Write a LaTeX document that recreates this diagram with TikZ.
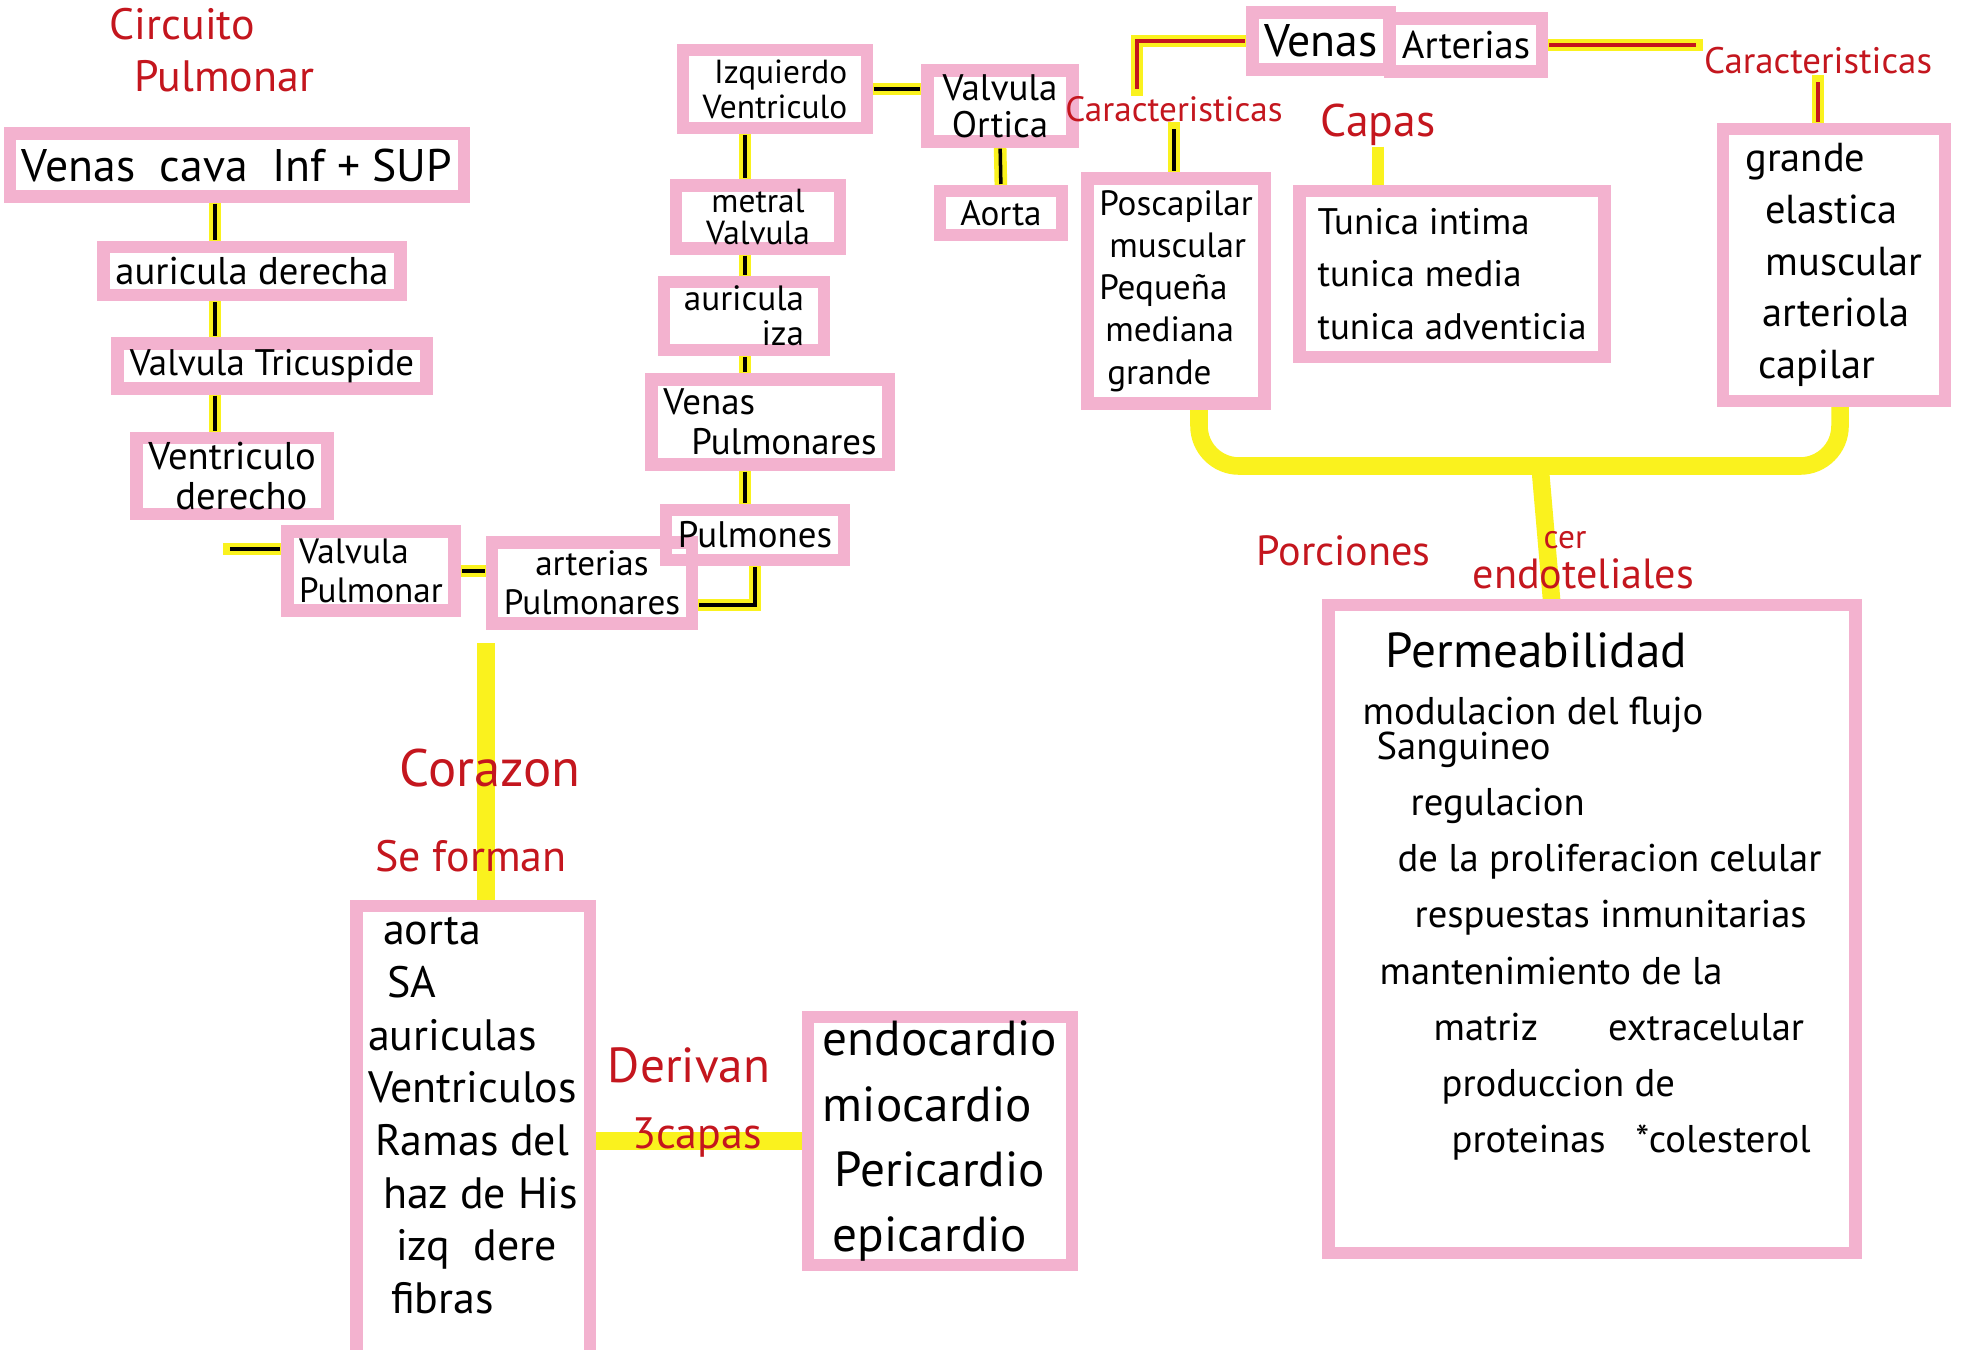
\documentclass[tikz,border=0pt]{standalone}
\usepackage{fontspec}
\setmainfont{PT Sans}
\usetikzlibrary{backgrounds}
\definecolor{pinkmark}{RGB}{243,178,207}
\definecolor{yellowmark}{RGB}{250,242,30}
\definecolor{redpen}{RGB}{196,22,30}
\begin{document}
\begin{tikzpicture}[x=0.1mm, y=-0.1mm,
    box/.style={draw=pinkmark, line width=3.6pt, outer sep=0pt, inner xsep=1.2mm, inner ysep=0.4mm},
    lbl/.style={text=redpen, inner sep=0pt},
    hl/.style={draw=yellowmark, line width=3.6pt},
    broad/.style={draw=yellowmark, line width=5pt},
    pen/.style={hl, postaction={draw=black, line width=1pt, shorten <=2pt, shorten >=2pt}},
    redline/.style={hl, postaction={draw=redpen, line width=1pt, shorten <=2pt, shorten >=2pt}}]
    \useasboundingbox (0,0) rectangle (1965,1349);

    \node[lbl, font=\fontsize{12.5}{15}\selectfont, align=left] (circ) at (212,50) {Circuito\\\hspace*{2.5mm}Pulmonar};
    \node[box, minimum width=43.6mm, minimum height=6.3mm, font=\fontsize{13}{15}\selectfont] (vcava) at (237,165) {Venas~~cava~~Inf + SUP};
    \node[box, minimum width=28.6mm, minimum height=4.8mm, font=\fontsize{11}{13}\selectfont] (aurder) at (252,271) {auricula derecha};
    \node[box, minimum width=28.3mm, minimum height=4.5mm, font=\fontsize{10.5}{12}\selectfont] (vtric) at (272,366) {Valvula Tricuspide};
    \node[box, minimum width=17.6mm, minimum height=7.6mm, font=\fontsize{11}{11.5}\selectfont, align=left] (ventder) at (232,476) {Ventriculo\\\hspace*{2.7mm}derecho};
    \node[box, minimum width=14.8mm, minimum height=7.9mm, font=\fontsize{10}{11}\selectfont, align=left] (vpulm) at (371,571) {Valvula\\Pulmonar};
    \node[box, minimum width=17mm, minimum height=8.1mm, font=\fontsize{10}{11}\selectfont, align=center] (artpulm) at (592,583) {arterias\\Pulmonares};
    \node[box, minimum width=14.4mm, minimum height=5mm, font=\fontsize{10.5}{12}\selectfont] (pulmones) at (755,535) {Pulmones};
    \node[box, minimum width=20.3mm, minimum height=8.5mm, font=\fontsize{10.5}{11.5}\selectfont, align=left] (venpulm) at (770,422) {Venas\\\hspace*{2.8mm}Pulmonares};
    \node[box, minimum width=16mm, minimum height=6.3mm, font=\fontsize{10}{10}\selectfont, align=right] (aurizq) at (744,316) {auricula\\iza};
    \node[box, minimum width=16.4mm, minimum height=5.6mm, font=\fontsize{9.5}{9}\selectfont, align=center] (mitral) at (758,217) {metral\\Valvula};
    \node[box, minimum width=18.4mm, minimum height=7.8mm, font=\fontsize{9.5}{10}\selectfont, align=right] (izqvent) at (775,89) {Izquierdo\\Ventriculo};
    \node[box, minimum width=14.5mm, minimum height=7mm, font=\fontsize{10.5}{10.5}\selectfont, align=center] (vaort) at (1000,106) {Valvula\\Ortica};
    \node[box, minimum width=12.2mm, minimum height=4.4mm, font=\fontsize{10}{12}\selectfont] (aorta) at (1001,213) {Aorta};
    \node[lbl, font=\fontsize{10}{12}\selectfont] (carl) at (1174,109) {Caracteristicas};
    \node[box, minimum width=11.6mm, minimum height=5.7mm, font=\fontsize{13}{15}\selectfont] (venas) at (1321,41) {Venas};
    \node[box, minimum width=13.8mm, minimum height=5.3mm, font=\fontsize{11}{13}\selectfont] (arterias) at (1466,45) {Arterias};
    \node[lbl, font=\fontsize{10.5}{12}\selectfont] (carr) at (1818,61) {Caracteristicas};
    \node[box, minimum width=22.2mm, minimum height=27.2mm, font=\fontsize{11.5}{14.7}\selectfont, align=left] (grande) at (1834,265)
        {grande\\\hspace*{2mm}elastica\\\hspace*{2mm}muscular\\\hspace*{1.7mm}arteriola\\\hspace*{1.3mm}capilar};
    \node[lbl, font=\fontsize{13}{15}\selectfont] (capas) at (1378,125) {Capas};
    \node[box, minimum width=30.5mm, minimum height=16.6mm, font=\fontsize{10.5}{15}\selectfont, align=left] (tunica) at (1452,274)
        {Tunica intima\\tunica media\\tunica adventicia};
    \node[box, minimum width=17.2mm, minimum height=22.5mm, font=\fontsize{10}{12}\selectfont, align=left] (poscap) at (1176,291)
        {Poscapilar\\\hspace*{1mm}muscular\\Pequeña\\\hspace*{0.6mm}mediana\\\hspace*{0.8mm}grande};
    \node[lbl, font=\fontsize{12}{14}\selectfont] (porc) at (1475,562) {Porciones\quad\raisebox{-2.3mm}{endoteliales}};
    \node[lbl, font=\fontsize{9.5}{11}\selectfont] (cer) at (1565,540) {cer};
    \node[box, minimum width=52.7mm, minimum height=64.8mm, font=\fontsize{11}{16}\selectfont, align=left] (endo) at (1592,929)
        {\hspace*{2.3mm}{\fontsize{14}{16}\selectfont Permeabilidad}\\
         modulacion del flujo\\[-6pt]
         \hspace*{1.4mm}Sanguineo\\
         \hspace*{4.8mm}regulacion\\
         \hspace*{3.5mm}de la proliferacion celular\\
         \hspace*{5.2mm}respuestas inmunitarias\\
         \hspace*{1.7mm}mantenimiento de la\\
         \hspace*{7.1mm}matriz\hspace{7mm}extracelular\\
         \hspace*{7.9mm}produccion de\\
         \hspace*{8.9mm}proteinas\hspace{3mm}*colesterol\\[1.6mm]\mbox{}};
    \node[lbl, font=\fontsize{15}{18}\selectfont] (corazon) at (490,768) {Corazon};
    \node[lbl, font=\fontsize{12.5}{15}\selectfont] (seforman) at (471,856) {Se forman};
    \node[box, minimum width=23.2mm, minimum height=45.4mm, font=\fontsize{12.5}{15}\selectfont, align=left] (heart) at (473,1133)
        {\hspace*{1.5mm}aorta\\\hspace*{1.9mm}SA\\auriculas\\Ventriculos\\\hspace*{0.7mm}Ramas del\\\hspace*{1.5mm}haz de His\\\hspace*{2.8mm}izq~~dere\\\hspace*{2.3mm}fibras\\[-5pt]\mbox{}};
    \node[lbl, font=\fontsize{14}{16}\selectfont] (derivan) at (689,1065) {Derivan};
    \node[lbl, font=\fontsize{12.5}{15}\selectfont] (capas3) at (697,1137) {3capas};
    \node[box, minimum width=26.4mm, minimum height=24.5mm, font=\fontsize{14}{18.5}\selectfont, align=left] (endoc) at (940,1141)
        {endocardio\\miocardio\\\hspace*{1.2mm}Pericardio\\\hspace*{1mm}epicardio};

    \coordinate (leftcol) at (215,0);
    \coordinate (midcol) at (745,0);
    \coordinate (vpdash) at (223,549);
    \coordinate (loopjoint) at (1540,466);
    \coordinate (cortop) at (486,643);

    \begin{scope}[on background layer]
        \fill[white] (0,0) rectangle (1965,1349);
        \foreach \a/\b in {vcava/aurder, aurder/vtric, vtric/ventder}
            \draw[pen] (\a.south -| leftcol) -- (\b.north -| leftcol);
        \foreach \a/\b in {izqvent/mitral, mitral/aurizq, aurizq/venpulm, venpulm/pulmones}
            \draw[pen] (\a.south -| midcol) -- (\b.north -| midcol);
        \draw[pen] (vpdash) -- (vpdash -| vpulm.west);
        \draw[pen] (vpulm.east) -- (vpulm.east -| artpulm.west);
        \draw[pen] ([yshift=-2.2mm]artpulm.east) -| (pulmones.south);
        \draw[pen] (izqvent.east) -- (izqvent.east -| vaort.west);
        \draw[pen] (vaort.south) -- (aorta.north);
        \draw[pen] (carl.south) -- (carl.south |- poscap.north);
        \draw[redline] ([xshift=-3.7mm]carl.north) |- (venas.west);
        \draw[redline] (arterias.east) -- (arterias.east -| carr.west);
        \draw[redline] (carr.south) -- (carr.south |- grande.north);
        \draw[hl] (capas.south) -- (capas.south |- tunica.north);
        \draw[broad, rounded corners=4mm] ([xshift=2.3mm]poscap.south) |- (loopjoint) -| ([xshift=0.6mm]grande.south);
        \draw[broad] (loopjoint) -- ([xshift=-4mm]endo.north);
        \draw[broad] (cortop) -- (cortop |- heart.north);
        \draw[broad] (heart.east |- endoc.west) -- (endoc.west);
    \end{scope}
\end{tikzpicture}
\end{document}
